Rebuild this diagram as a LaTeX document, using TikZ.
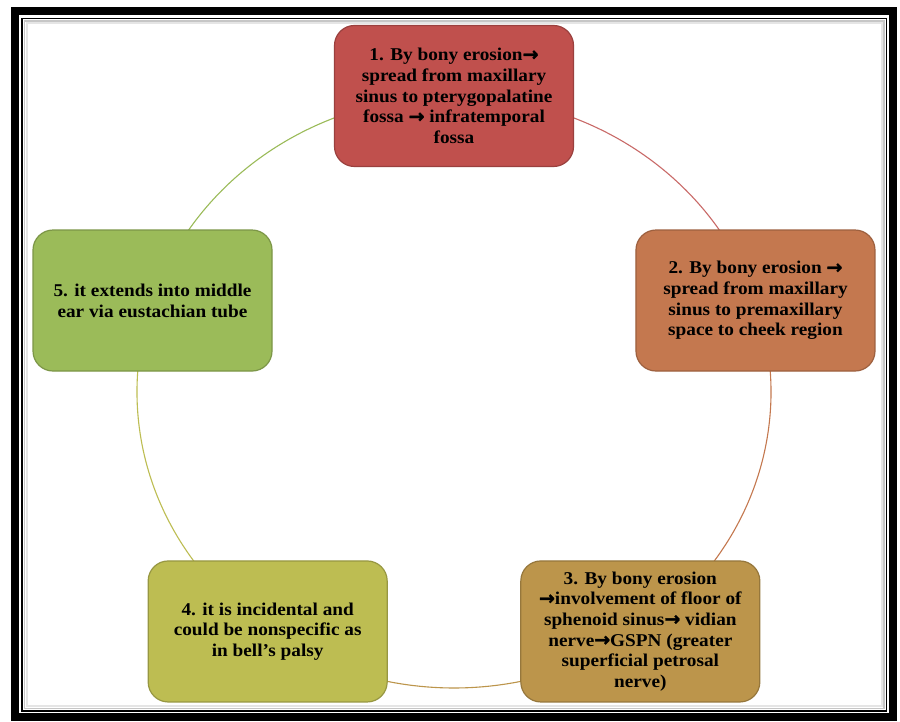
\documentclass[tikz,border=0pt]{standalone}
\usepackage{fontspec}
\setmainfont{Liberation Serif}[FakeStretch=1.07]
\newfontfamily\arrfont{DejaVu Sans}[FakeBold=1.5]
\newcommand\arr{{\arrfont\bfseries\fontsize{19}{20.7}\selectfont →}}
\definecolor{c1}{HTML}{C0504D}
\definecolor{c2}{HTML}{C4784F}
\definecolor{c3}{HTML}{BC954B}
\definecolor{c4}{HTML}{BDBD52}
\definecolor{c5}{HTML}{9BBB59}
\begin{document}
\begin{tikzpicture}[x=1pt,y=1pt,
  box/.style={rounded corners=20pt, minimum width=239pt, minimum height=141pt,
    line width=1.2pt, align=center, inner sep=0pt,
    font=\bfseries\fontsize{18}{20.7}\selectfont},
  ring/.style={line width=1.1pt}]
\useasboundingbox (0,0) rectangle (900,722);
\fill[white] (0,0) rectangle (900,722);
% frame
\draw[line width=8pt] (15,5) rectangle (893,711);
\draw[line width=1.5pt] (22,11) rectangle (886.5,703.5);
\draw[gray!45,line width=1.5pt] (24.5,13.5) rectangle (884,701);
\draw[gray!20,line width=2pt] (26.5,15.5) rectangle (882,699);
% ring
\coordinate (c) at (454,330);
\draw[ring,c1!85] ([shift={(90:317 and 296)}]c) arc[start angle=90,end angle=18,x radius=317,y radius=296];
\draw[ring,c2] ([shift={(18:317 and 296)}]c) arc[start angle=18,end angle=-54,x radius=317,y radius=296];
\draw[ring,c3] ([shift={(-54:317 and 296)}]c) arc[start angle=-54,end angle=-126,x radius=317,y radius=296];
\draw[ring,c4] ([shift={(-126:317 and 296)}]c) arc[start angle=-126,end angle=-198,x radius=317,y radius=296];
\draw[ring,c5] ([shift={(162:317 and 296)}]c) arc[start angle=162,end angle=90,x radius=317,y radius=296];
% boxes
\node[box,fill=c1,draw=c1!80!black] (n1) at ([shift={(90:317 and 296)}]c)
  {1. By bony erosion\arr\\spread from maxillary\\sinus to pterygopalatine\\fossa \arr{} infratemporal\\fossa};
\node[box,fill=c2,draw=c2!80!black] (n2) at ([shift={(18:317 and 296)}]c)
  {2. By bony erosion \arr\\spread from maxillary\\sinus to premaxillary\\space to cheek region};
\node[box,fill=c3,draw=c3!80!black] (n3) at ([shift={(-54:317 and 296)}]c)
  {3. By bony erosion\\\arr involvement of floor of\\sphenoid sinus\arr{} vidian\\nerve\arr GSPN (greater\\superficial petrosal\\nerve)};
\node[box,fill=c4,draw=c4!80!black] (n4) at ([shift={(-126:317 and 296)}]c)
  {4. it is incidental and\\could be nonspecific as\\in bell’s palsy};
\node[box,fill=c5,draw=c5!80!black] (n5) at ([shift={(162:317 and 296)}]c)
  {5. it extends into middle\\ear via eustachian tube};
\end{tikzpicture}
\end{document}
